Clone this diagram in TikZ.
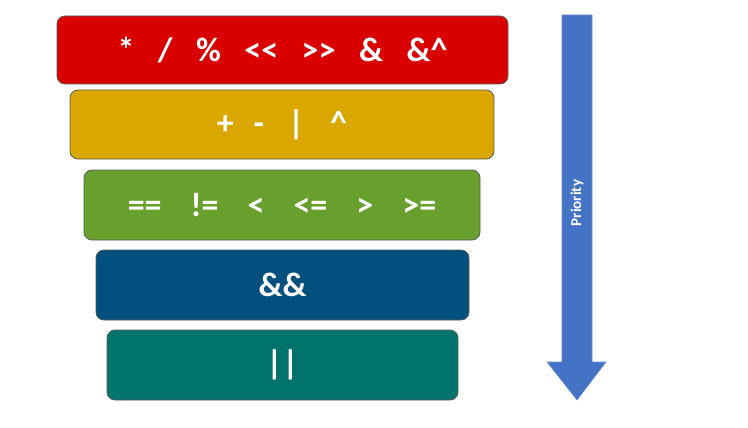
\documentclass[tikz,border=0pt]{standalone}
\usepackage{fontspec}
\setmainfont[Ligatures=NoCommon]{Carlito}
\definecolor{cred}{RGB}{217,0,0}
\definecolor{cgold}{RGB}{218,166,0}
\definecolor{cgreen}{RGB}{104,160,45}
\definecolor{cnavy}{RGB}{2,80,126}
\definecolor{cteal}{RGB}{0,116,108}
\definecolor{carrow}{RGB}{68,114,196}
\definecolor{cedge}{RGB}{90,90,90}
\tikzset{
  level/.style={draw=cedge, line width=0.8pt, rounded corners=8pt, text=white,
    font=\fontsize{34}{38}\selectfont\bfseries, inner sep=0pt}
}
\newcommand{\opgap}[1]{\hspace{#1pt}}
\begin{document}
\begin{tikzpicture}[x=1pt,y=-1pt]
\useasboundingbox (0,0) rectangle (748,428);
\node[level, fill=cred, minimum width=451pt, minimum height=68pt] (l1) at (282.5,50)
  {*\opgap{23.5}/\opgap{23.5}\%\opgap{23.5}{<}{<}\opgap{23.5}{>}{>}\opgap{23.5}\&\opgap{23.5}\&\^{}};
\node[level, fill=cgold, minimum width=424pt, minimum height=69pt] (l2) at (282,124.5)
  {+\opgap{20}-\opgap{24}|\opgap{26}\^{}};
\node[level, fill=cgreen, minimum width=396pt, minimum height=70pt] (l3) at (282,205)
  {==\opgap{29}!=\opgap{29}<\opgap{29}<=\opgap{29}>\opgap{29}>=};
\node[level, fill=cnavy, minimum width=373pt, minimum height=70pt] (l4) at (282.5,285) {\&\&};
\node[level, fill=cteal, minimum width=351pt, minimum height=70pt] (l5) at (282.5,365) {||};
\fill[carrow, draw=carrow!80!white, line width=0.6pt]
  (562,15) -- (592,15) -- (592,362) -- (606,362) -- (577,400) -- (547,362) -- (562,362) -- cycle;
\node[rotate=90, text=white, font=\fontsize{15}{17}\selectfont\bfseries] (prio) at (577,203) {Priority};
\end{tikzpicture}
\end{document}
